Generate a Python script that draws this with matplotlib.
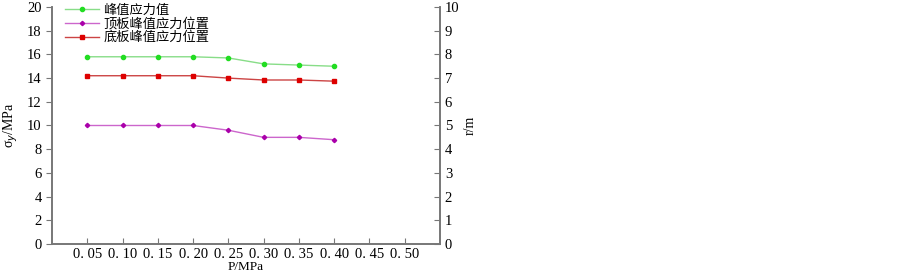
import matplotlib
matplotlib.use("Agg")
import matplotlib.pyplot as plt

plt.rcParams['font.family'] = ['Liberation Serif', 'Noto Sans CJK SC', 'DejaVu Sans']

pressure = [0.05, 0.10, 0.15, 0.20, 0.25, 0.30, 0.35, 0.40]
peak_stress = [15.8, 15.8, 15.8, 15.8, 15.7, 15.2, 15.1, 15.0]
roof_position = [5.0, 5.0, 5.0, 5.0, 4.8, 4.5, 4.5, 4.4]
floor_position = [7.1, 7.1, 7.1, 7.1, 7.0, 6.92, 6.92, 6.87]
xticks = [0.05, 0.10, 0.15, 0.20, 0.25, 0.30, 0.35, 0.40, 0.45, 0.50]
xticklabels = ["0. 05", "0. 10", "0. 15", "0. 20", "0. 25", "0. 30", "0. 35", "0. 40", "0. 45", "0. 50"]
names = ["峰值应力值", "顶板峰值应力位置", "底板峰值应力位置"]

fig = plt.figure(figsize=(9.03, 2.72), dpi=100)
ax = fig.add_axes([52/903, 1-244/272, (440-52)/903, (244-7)/272])
ax2 = ax.twinx()

axis_col = '#777777'
l1, = ax.plot(pressure, peak_stress, color='#88dd88', lw=1.0, marker='o', ms=3,
              mfc='#22dd22', mec='#22dd22')
l2, = ax2.plot(pressure, roof_position, color='#cc66cc', lw=1.0, marker='D', ms=2.2,
               mfc='#aa00aa', mec='#aa00aa')
l3, = ax2.plot(pressure, floor_position, color='#cc4444', lw=1.0, marker='s', ms=2.2,
               mfc='#dd0000', mec='#dd0000')

ax.set_xlim(0, 0.55)
ax.set_ylim(0, 20)
ax2.set_ylim(0, 10)
ax.set_xticks(xticks)
ax.set_xticklabels(xticklabels, fontsize=10.5)
ax.set_yticks(range(0, 21, 2))
ax.tick_params(axis='y', direction='out', length=4, color=axis_col, labelsize=10.5)
ax.tick_params(axis='x', direction='in', length=4, color=axis_col, labelsize=10.5, pad=3)
ax2.set_yticks(range(0, 11, 1))
ax2.tick_params(axis='y', direction='in', length=4, color=axis_col, labelsize=10.5)

for a in (ax, ax2):
    a.spines['top'].set_visible(False)
    for s in ('left', 'right', 'bottom'):
        a.spines[s].set_color(axis_col)
        a.spines[s].set_linewidth(1.2)

ax.set_ylabel("σ$_y$/MPa", fontsize=10, labelpad=5)
ax2.set_ylabel("r/m", fontsize=10, labelpad=3)
ax.set_xlabel("P/MPa", fontsize=9.5, labelpad=0)

leg = ax.legend([l1, l2, l3], names, loc='upper left', bbox_to_anchor=(0.02, 1.035),
                frameon=False, handlelength=2.6, handletextpad=0.3,
                labelspacing=0.05, borderaxespad=0,
                prop={'family': ['Noto Sans CJK SC'], 'size': 9.5})

fig.savefig("out.png", dpi=100)
